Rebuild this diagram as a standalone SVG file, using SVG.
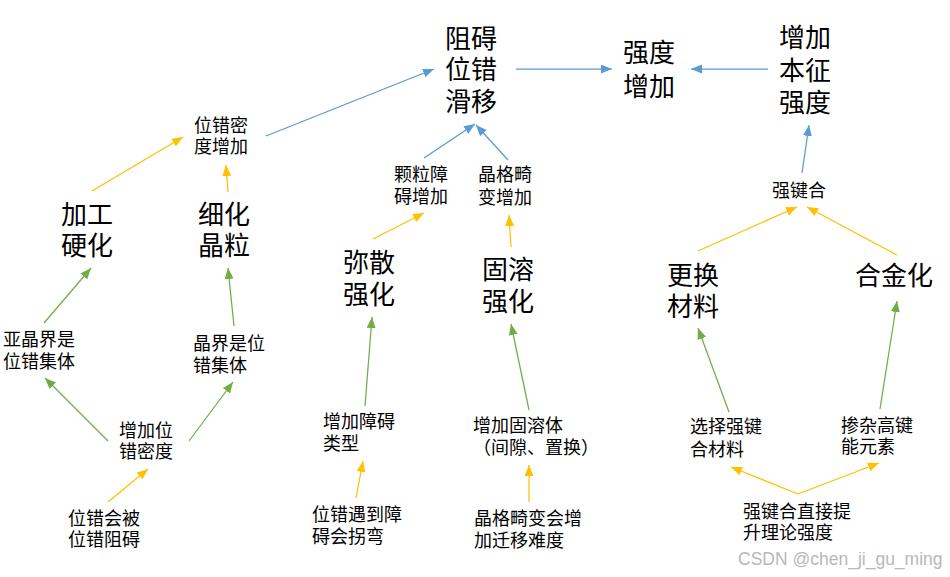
<svg xmlns="http://www.w3.org/2000/svg" width="950" height="577" viewBox="0 0 950 577">
<style>
text{font-family:"Noto Sans CJK SC","Microsoft YaHei",sans-serif;fill:#000}
.big{font-size:26px}
.sm{font-size:18px}
.wm{font-family:"Liberation Sans",Arial,sans-serif;font-size:17.5px;fill:#b8b8b8}
.b{stroke:#5B9BD5;stroke-width:1.25;fill:none;marker-end:url(#mb)}
.y{stroke:#FFC000;stroke-width:1.25;fill:none;marker-end:url(#my)}
.g{stroke:#70AD47;stroke-width:1.25;fill:none;marker-end:url(#mg)}
</style>
<defs>
<marker id="mb" markerUnits="userSpaceOnUse" markerWidth="12" markerHeight="10" refX="11" refY="4.5" orient="auto"><path d="M0,0 L11,4.5 L0,9 z" fill="#5B9BD5"/></marker>
<marker id="my" markerUnits="userSpaceOnUse" markerWidth="12" markerHeight="10" refX="11" refY="4.5" orient="auto"><path d="M0,0 L11,4.5 L0,9 z" fill="#FFC000"/></marker>
<marker id="mg" markerUnits="userSpaceOnUse" markerWidth="12" markerHeight="10" refX="11" refY="4.5" orient="auto"><path d="M0,0 L11,4.5 L0,9 z" fill="#70AD47"/></marker>
</defs>
<rect width="950" height="577" fill="#fff"/>
<g id="connectors">
<line class="b" x1="266" y1="136" x2="434" y2="69"/>
<line class="b" x1="516" y1="69" x2="612" y2="69"/>
<line class="b" x1="768" y1="69" x2="691" y2="69"/>
<line class="b" x1="424" y1="158" x2="475" y2="124"/>
<line class="b" x1="508" y1="160" x2="476" y2="125"/>
<line class="b" x1="802" y1="173" x2="809" y2="125"/>
<line class="y" x1="92" y1="191" x2="183" y2="137"/>
<line class="y" x1="228" y1="192" x2="226" y2="165"/>
<line class="y" x1="108" y1="502" x2="148" y2="469"/>
<line class="y" x1="373" y1="239" x2="424" y2="213"/>
<line class="y" x1="511" y1="247" x2="509" y2="215"/>
<line class="y" x1="356" y1="498" x2="363" y2="461"/>
<line class="y" x1="529" y1="502" x2="529" y2="465"/>
<line class="y" x1="698" y1="251" x2="797" y2="207"/>
<line class="y" x1="897" y1="255" x2="807" y2="207"/>
<line class="y" x1="798" y1="494" x2="731" y2="467"/>
<line class="y" x1="798" y1="494" x2="879" y2="463"/>
<line class="g" x1="44" y1="323" x2="91" y2="268"/>
<line class="g" x1="234" y1="326" x2="228" y2="268"/>
<line class="g" x1="108" y1="441" x2="45" y2="378"/>
<line class="g" x1="189" y1="441" x2="233" y2="382"/>
<line class="g" x1="365" y1="406" x2="372" y2="317"/>
<line class="g" x1="529" y1="410" x2="511" y2="324"/>
<line class="g" x1="729" y1="412" x2="698" y2="328"/>
<line class="g" x1="880" y1="409" x2="897" y2="301"/>
</g>
<g id="n-zuai"><text class="big"><tspan x="445" y="48">阻碍</tspan><tspan x="445" y="79">位错</tspan><tspan x="445" y="111">滑移</tspan></text></g>
<g id="n-qiangdu"><text class="big"><tspan x="623" y="62">强度</tspan><tspan x="623" y="96">增加</tspan></text></g>
<g id="n-benzheng"><text class="big"><tspan x="779" y="47">增加</tspan><tspan x="779" y="80">本征</tspan><tspan x="779" y="112">强度</tspan></text></g>
<g id="n-jiagong"><text class="big"><tspan x="61" y="224">加工</tspan><tspan x="61" y="255">硬化</tspan></text></g>
<g id="n-xihua"><text class="big"><tspan x="198" y="224">细化</tspan><tspan x="198" y="255">晶粒</tspan></text></g>
<g id="n-misan"><text class="big"><tspan x="343" y="272">弥散</tspan><tspan x="343" y="304">强化</tspan></text></g>
<g id="n-gurong"><text class="big"><tspan x="482" y="279">固溶</tspan><tspan x="482" y="311">强化</tspan></text></g>
<g id="n-genghuan"><text class="big"><tspan x="667" y="285">更换</tspan><tspan x="667" y="316">材料</tspan></text></g>
<g id="n-hejin"><text class="big" x="855" y="285">合金化</text></g>
<g id="n-midu"><text class="sm"><tspan x="194" y="132">位错密</tspan><tspan x="194" y="153">度增加</tspan></text></g>
<g id="n-yajing"><text class="sm"><tspan x="3" y="346">亚晶界是</tspan><tspan x="3" y="368">位错集体</tspan></text></g>
<g id="n-jingjie"><text class="sm"><tspan x="193" y="350">晶界是位</tspan><tspan x="193" y="372">错集体</tspan></text></g>
<g id="n-zengjia"><text class="sm"><tspan x="119" y="437">增加位</tspan><tspan x="119" y="458">错密度</tspan></text></g>
<g id="n-zuai2"><text class="sm"><tspan x="68" y="525">位错会被</tspan><tspan x="68" y="546">位错阻碍</tspan></text></g>
<g id="n-keli"><text class="sm"><tspan x="394" y="181">颗粒障</tspan><tspan x="394" y="203">碍增加</tspan></text></g>
<g id="n-jige"><text class="sm"><tspan x="478" y="181">晶格畸</tspan><tspan x="478" y="204">变增加</tspan></text></g>
<g id="n-zhangai"><text class="sm"><tspan x="323" y="428">增加障碍</tspan><tspan x="323" y="450">类型</tspan></text></g>
<g id="n-rongti"><text class="sm"><tspan x="473" y="432">增加固溶体</tspan><tspan x="473" y="454">（间隙、置换）</tspan></text></g>
<g id="n-guaiwan"><text class="sm"><tspan x="312" y="521">位错遇到障</tspan><tspan x="312" y="543">碍会拐弯</tspan></text></g>
<g id="n-nandu"><text class="sm"><tspan x="474" y="525">晶格畸变会增</tspan><tspan x="474" y="547">加迁移难度</tspan></text></g>
<g id="n-jianhe"><text class="sm" x="772" y="197">强键合</text></g>
<g id="n-xuanze"><text class="sm"><tspan x="690" y="433">选择强键</tspan><tspan x="690" y="456">合材料</tspan></text></g>
<g id="n-chanza"><text class="sm"><tspan x="841" y="432">掺杂高键</tspan><tspan x="841" y="453">能元素</tspan></text></g>
<g id="n-zhijie"><text class="sm"><tspan x="743" y="518">强键合直接提</tspan><tspan x="743" y="539">升理论强度</tspan></text></g>
<text class="wm" x="738" y="565">CSDN @chen_ji_gu_ming</text>
</svg>
